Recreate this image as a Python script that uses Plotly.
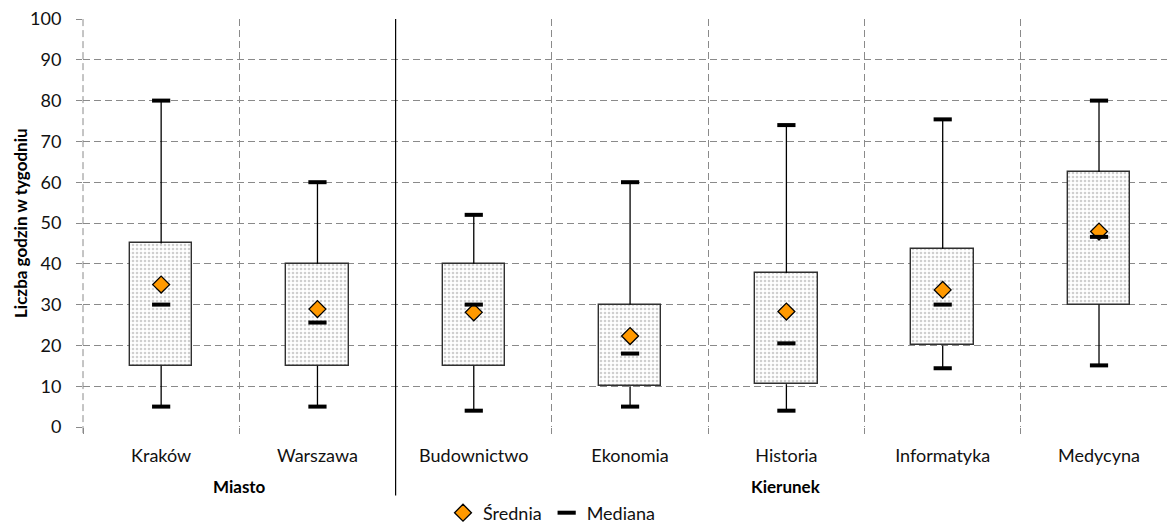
import plotly.graph_objects as go

categories = ["Kraków", "Warszawa", "Budownictwo", "Ekonomia", "Historia", "Informatyka", "Medycyna"]
low = [5, 5, 4, 5, 4, 14.4, 15.1]
q1 = [15, 15, 15, 10, 10.5, 20, 30]
median = [30, 25.6, 30, 18, 20.5, 30, 46.6]
q3 = [45, 40, 40, 30, 37.7, 43.7, 62.5]
high = [80, 60, 52, 60, 74, 75.4, 80]
mean = [34.9, 28.9, 28.1, 22.3, 28.3, 33.6, 47.9]
groups = [("Miasto", 0.5), ("Kierunek", 4)]
yticks = list(range(0, 101, 10))
y_title = "Liczba godzin w tygodniu"

FONT = "Lato"
xs = list(range(len(categories)))
x0, x1 = -0.5, 6.435
L, T, B, W, H = 83, 19, 98, 1167, 525

fig = go.Figure()

# boxes as bars with dotted pattern
fig.add_trace(go.Bar(
    x=xs, y=[b - a for a, b in zip(q1, q3)], base=q1, width=0.4,
    marker=dict(color="white",
                pattern=dict(shape=".", fgcolor="#a0a0a0", bgcolor="white", size=4, solidity=0.33),
                line=dict(color="#303030", width=1.4)),
    showlegend=False, hoverinfo="skip"))

# whiskers
wx, wy = [], []
for i in xs:
    wx += [i, i, None, i, i, None]
    wy += [low[i], q1[i], None, q3[i], high[i], None]
fig.add_trace(go.Scatter(x=wx, y=wy, mode="lines", line=dict(color="black", width=1.3),
                         showlegend=False, hoverinfo="skip"))
# whisker caps
fig.add_trace(go.Scatter(x=xs + xs, y=low + high, mode="markers",
                         marker=dict(symbol="line-ew", size=13, line=dict(color="black", width=4)),
                         showlegend=False, hoverinfo="skip"))
# mean
fig.add_trace(go.Scatter(x=xs, y=mean, mode="markers", name="Średnia",
                         marker=dict(symbol="diamond", size=13, color="#FF9900",
                                     line=dict(color="black", width=1.3))))
# median
fig.add_trace(go.Scatter(x=xs, y=median, mode="markers", name="Mediana",
                         marker=dict(symbol="line-ew", size=13, line=dict(color="black", width=4))))

grid = "#8a8a8a"
dash = "7px,4px"
fig.update_xaxes(range=[x0, x1], tickmode="array", tickvals=xs, ticktext=categories,
                 showgrid=False, ticks="", ticklabelstandoff=16, automargin=False,
                 tickfont=dict(family=FONT, size=18, color="#111111"),
                 minor=dict(tickmode="array", tickvals=[-0.5, 0.5, 2.5, 3.5, 4.5, 5.5],
                            showgrid=True, gridcolor=grid, griddash=dash, gridwidth=1,
                            ticks="outside", ticklen=6, tickcolor=grid),
                 zeroline=False, showline=False, fixedrange=True)
fig.update_yaxes(range=[0, 100], tickvals=yticks, showgrid=True, gridcolor=grid,
                 griddash=dash, gridwidth=1, zeroline=False, ticks="outside",
                 ticklen=6, tickcolor=grid, ticklabelstandoff=11, automargin=False,
                 tickfont=dict(family=FONT, size=18, color="#111111"),
                 showline=False, fixedrange=True)

plot_w = W - L
plot_h = H - T - B

# y-axis title
fig.add_annotation(x=(20 - L) / plot_w, xref="paper", y=0.5, yref="paper",
                   text=f"<b>{y_title}</b>", textangle=-90, showarrow=False,
                   xanchor="center", yanchor="middle",
                   font=dict(family=FONT, size=17, color="black"))

# left edge dashed gridline
fig.add_shape(type="line", xref="paper", yref="paper", x0=0, x1=0, y0=-0.015, y1=1,
              line=dict(color=grid, width=1, dash=dash), layer="below")

frac = (1.5 - x0) / (x1 - x0)
fig.add_shape(type="line", xref="paper", yref="paper", x0=frac, x1=frac, y0=-0.168, y1=1,
              line=dict(color="black", width=1.2))

for name, gx in groups:
    fig.add_annotation(x=gx, xref="x", y=-0.146, yref="paper", text=f"<b>{name}</b>",
                       showarrow=False, font=dict(family=FONT, size=17, color="black"),
                       yanchor="middle")

fig.update_layout(
    width=W, height=H, autosize=False,
    margin=dict(l=L, r=0, t=T, b=B, pad=0),
    plot_bgcolor="white", paper_bgcolor="white",
    bargap=0,
    legend=dict(orientation="h", xref="container", yref="container",
                x=443 / W, xanchor="left", y=12 / H, yanchor="middle",
                font=dict(family=FONT, size=18, color="#111111"), itemwidth=30,
                bgcolor="rgba(0,0,0,0)", tracegroupgap=0),
    font=dict(family=FONT),
)

fig.write_html("out.html", config={"displayModeBar": False},
               post_script="document.body.style.margin='0';")
